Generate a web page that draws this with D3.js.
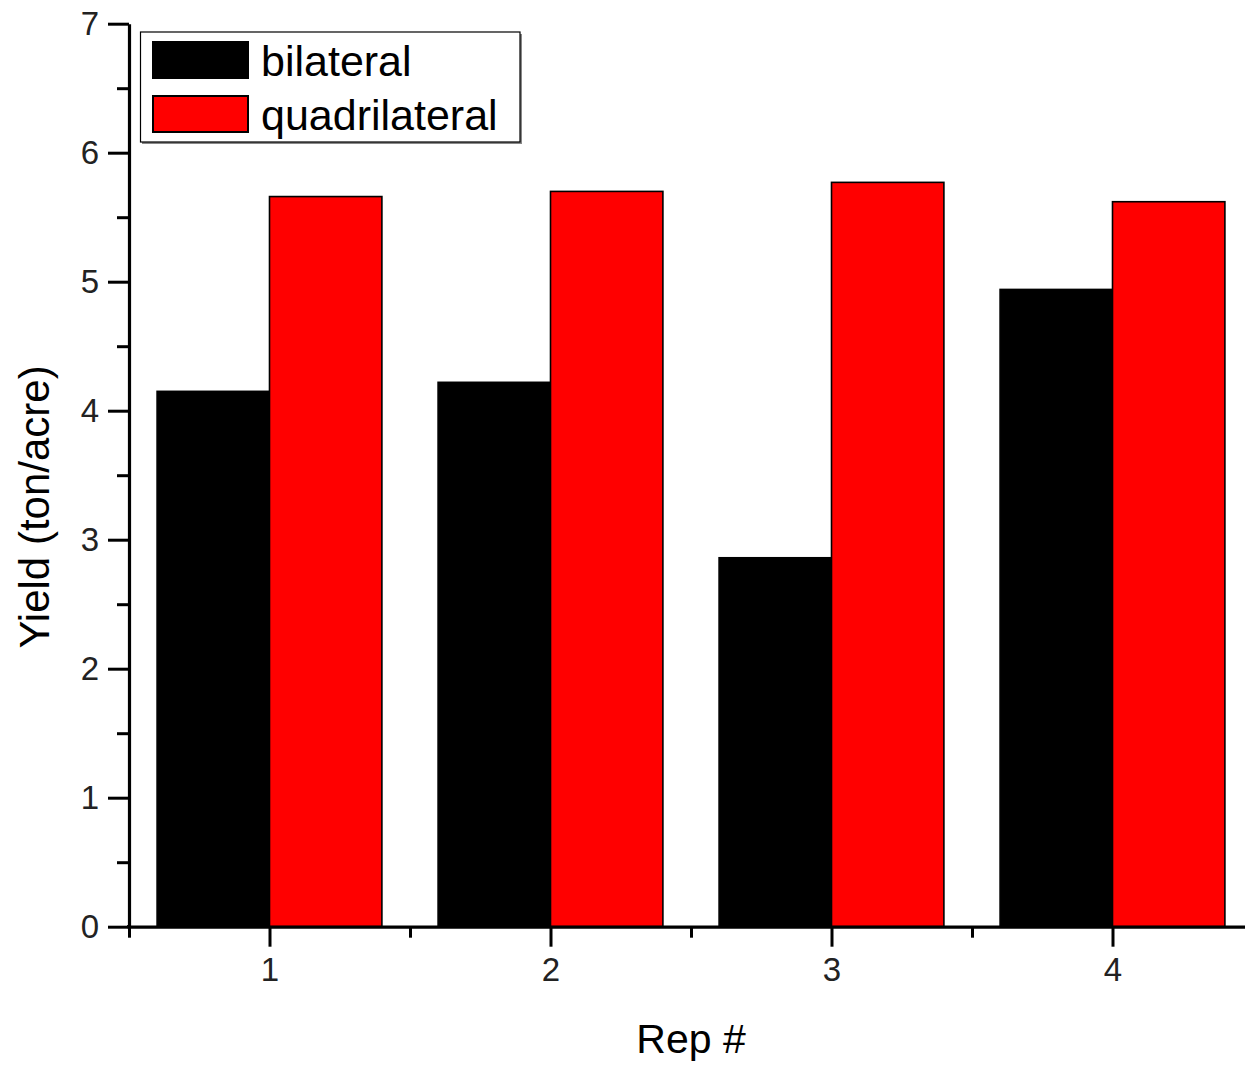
<!DOCTYPE html>
<html>
<head>
<meta charset="utf-8">
<script src="https://cdn.jsdelivr.net/npm/d3@7"></script>
<style>
  html, body { margin: 0; padding: 0; background: #fff; }
  svg { display: block; font-family: "Liberation Sans", Arial, sans-serif; }
</style>
</head>
<body>
<svg id="chart" width="1245" height="1066"></svg>
<script>
// Yield per replicate for the two layouts
const reps = [1, 2, 3, 4];
const bilateral = [4.15, 4.22, 2.86, 4.94];
const quadrilateral = [5.66, 5.70, 5.77, 5.62];
const seriesNames = ["bilateral", "quadrilateral"];
const seriesColors = ["#000000", "#ff0000"];
const yMajorTicks = [0, 1, 2, 3, 4, 5, 6, 7];
const yMinorTicks = [0.5, 1.5, 2.5, 3.5, 4.5, 5.5, 6.5];
const xMinorTicks = [0.5, 1.5, 2.5, 3.5, 4.5];

const svg = d3.select("#chart");

const x = d3.scaleLinear().domain([0.5, 4.5]).range([129, 1253]);
const y = d3.scaleLinear().domain([0, 7]).range([926.7, 23.7]);
const barW = 0.4; // in category units

// Bars: bilateral to the left of each rep tick, quadrilateral to the right
const series = [bilateral, quadrilateral];
series.forEach((vals, si) => {
  svg.append("g")
    .selectAll("rect")
    .data(reps.map((r, i) => ({ rep: r, v: vals[i] })))
    .join("rect")
    .attr("x", d => si === 0 ? x(d.rep - barW) : x(d.rep))
    .attr("y", d => y(d.v))
    .attr("width", x(barW) - x(0))
    .attr("height", d => y(0) - y(d.v))
    .attr("fill", seriesColors[si])
    .attr("stroke", "#000")
    .attr("stroke-width", 1.6);
});

// Y axis
const yAxis = svg.append("g").attr("transform", `translate(${x(0.5)},0)`);
yAxis.call(d3.axisLeft(y).tickValues(yMajorTicks).tickSize(21).tickPadding(9).tickSizeOuter(0)
  .tickFormat(d3.format("d")));
yAxis.append("g").call(d3.axisLeft(y).tickValues(yMinorTicks).tickSize(12).tickFormat("").tickSizeOuter(0))
  .select(".domain").remove();

// X axis
const xAxis = svg.append("g").attr("transform", `translate(0,${y(0)})`);
xAxis.call(d3.axisBottom(x).tickValues(reps).tickSize(20).tickPadding(11).tickSizeOuter(0)
  .tickFormat(d3.format("d")));
xAxis.append("g").call(d3.axisBottom(x).tickValues(xMinorTicks).tickSize(11).tickFormat("").tickSizeOuter(0))
  .select(".domain").remove();

svg.selectAll(".domain").attr("stroke", "#000").attr("stroke-width", 3.2);
svg.selectAll(".tick line").attr("stroke", "#000").attr("stroke-width", 3);
svg.selectAll(".tick text").attr("font-size", 33).attr("fill", "#222")
  .attr("font-family", "Liberation Sans, Arial, sans-serif");

// Extend the x axis line back to meet the y axis
svg.append("line")
  .attr("x1", x(0.5) - 2).attr("x2", x(0.5) + 2)
  .attr("y1", y(0)).attr("y2", y(0))
  .attr("stroke", "#000").attr("stroke-width", 3.2);

// Axis titles
svg.append("text")
  .attr("x", (x(0.5) + x(4.5)) / 2)
  .attr("y", 1053)
  .attr("text-anchor", "middle")
  .attr("font-size", 41)
  .attr("fill", "#000")
  .text("Rep #");

svg.append("text")
  .attr("transform", `translate(49,507) rotate(-90)`)
  .attr("text-anchor", "middle")
  .attr("font-size", 42)
  .attr("fill", "#000")
  .text("Yield (ton/acre)");

// Legend
const legend = svg.append("g");
legend.append("rect")
  .attr("x", 142).attr("y", 34).attr("width", 380).attr("height", 110)
  .attr("fill", "#888");
legend.append("rect")
  .attr("x", 140.5).attr("y", 32).attr("width", 379.5).attr("height", 110)
  .attr("fill", "#fff").attr("stroke", "#000").attr("stroke-width", 1.2);

const legendRows = [42, 96];
seriesNames.forEach((name, i) => {
  legend.append("rect")
    .attr("x", 153).attr("y", legendRows[i])
    .attr("width", 95).attr("height", 36)
    .attr("fill", seriesColors[i])
    .attr("stroke", "#000").attr("stroke-width", 2);
  legend.append("text")
    .attr("x", 261).attr("y", legendRows[i] + 34)
    .attr("font-size", 43)
    .attr("fill", "#000")
    .text(name);
});
</script>
</body>
</html>
